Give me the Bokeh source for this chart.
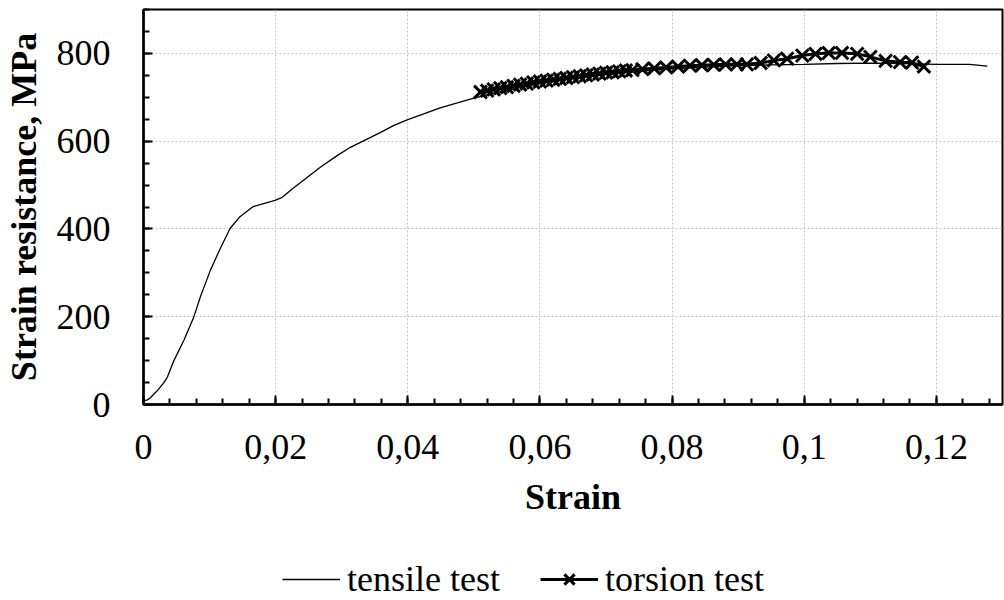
from bokeh.plotting import figure
from bokeh.layouts import column
from bokeh.models import FixedTicker, Range1d, Legend, LegendItem
from bokeh.embed import file_html
from bokeh.resources import INLINE

# ---------------- data ----------------
tensile_strain = [0.0, 0.0005, 0.001, 0.002, 0.003, 0.0036, 0.0046, 0.0061, 0.0076,
                  0.0086, 0.0101, 0.0116, 0.0131, 0.0146, 0.0166, 0.0187, 0.0199,
                  0.021, 0.0225, 0.0248, 0.0268, 0.0293, 0.0313, 0.0336, 0.0359,
                  0.0379, 0.04, 0.0424, 0.0449, 0.0475, 0.05, 0.055, 0.06, 0.065,
                  0.07, 0.075, 0.08, 0.085, 0.09, 0.095, 0.1, 0.105, 0.11, 0.115,
                  0.12, 0.125, 0.1277]
tensile_stress = [8, 10, 15, 30, 48, 62, 100, 146, 199,
                  245, 305, 355, 401, 428, 451, 460, 465,
                  472, 491, 518, 541, 567, 586, 603, 620,
                  636, 649, 662, 676, 687, 698, 716, 731, 743,
                  752, 759, 765, 769, 772, 774, 775, 777, 778, 777,
                  775, 775, 771]

torsion_strain = [0.051, 0.052, 0.053, 0.054, 0.055, 0.056, 0.057, 0.058, 0.059,
                  0.060, 0.061, 0.062, 0.063, 0.064, 0.065, 0.066, 0.067, 0.068,
                  0.069, 0.070, 0.071, 0.072, 0.073, 0.074, 0.0755, 0.0773,
                  0.0791, 0.0809, 0.0827, 0.0845, 0.0863, 0.0881, 0.0898, 0.0913,
                  0.0934, 0.0954, 0.0974, 0.0997, 0.1017, 0.1037, 0.1057, 0.108,
                  0.110, 0.1123, 0.1145, 0.1163, 0.1181]
torsion_stress = [712, 715, 718, 721, 723, 726, 729, 731, 734,
                  736, 738, 740, 742, 744, 746, 748, 750, 752,
                  754, 756, 757, 759, 761, 762, 764, 766,
                  768, 770, 772, 773, 774, 775, 775, 775,
                  778, 784, 788, 795, 799, 801, 801, 799,
                  792, 783, 780, 779, 770]

x_ticks = [0, 0.02, 0.04, 0.06, 0.08, 0.1, 0.12]
x_tick_labels = ["0", "0,02", "0,04", "0,06", "0,08", "0,1", "0,12"]
y_ticks = [0, 200, 400, 600, 800]
x_minor = [round(i * 0.004, 4) for i in range(33)]
y_minor = [i * 50 for i in range(19)]
series_names = ["tensile test", "torsion test"]

FONT = "Liberation Serif"
FS = "36px"

p = figure(width=1004, height=540, output_backend="svg", toolbar_location=None,
           x_range=Range1d(0, 0.13), y_range=Range1d(0, 900),
           min_border_left=143, min_border_right=2, min_border_top=9,
           min_border_bottom=136,
           x_axis_label="Strain", y_axis_label="Strain resistance, MPa")

p.background_fill_color = "white"
p.border_fill_color = "white"
p.outline_line_color = "black"
p.outline_line_width = 2

p.xaxis.ticker = FixedTicker(ticks=x_ticks, minor_ticks=x_minor)
p.yaxis.ticker = FixedTicker(ticks=y_ticks, minor_ticks=y_minor)
p.xaxis.major_label_overrides = {t: s for t, s in zip(x_ticks, x_tick_labels)}

for ax in (p.xaxis[0], p.yaxis[0]):
    ax.axis_line_color = "black"
    ax.axis_line_width = 2.5
    ax.major_tick_in = 9
    ax.major_tick_out = 0
    ax.minor_tick_in = 6
    ax.minor_tick_out = 0
    ax.major_tick_line_color = "black"
    ax.minor_tick_line_color = "black"
    ax.major_tick_line_width = 2
    ax.minor_tick_line_width = 2
    ax.major_label_text_font = FONT
    ax.major_label_text_font_size = FS
    ax.major_label_text_color = "black"
    ax.axis_label_text_font = FONT
    ax.axis_label_text_font_size = FS
    ax.axis_label_text_font_style = "bold"
    ax.axis_label_text_color = "black"

p.xaxis.major_label_standoff = 30
p.xaxis.axis_label_standoff = 15
p.yaxis.major_label_standoff = 33
p.yaxis.axis_label_standoff = 10

for g in (p.xgrid[0], p.ygrid[0]):
    g.grid_line_color = "#c4c4c4"
    g.grid_line_dash = "2 2"
    g.grid_line_width = 1

TENSILE = dict(line_color="black", line_width=1.3)
TORSION_LINE = dict(line_color="black", line_width=3)
TORSION_MARK = dict(marker="x", line_color="black", line_width=3)

p.line(tensile_strain, tensile_stress, **TENSILE)
p.line(torsion_strain, torsion_stress, **TORSION_LINE)
p.scatter(torsion_strain, torsion_stress, size=18, **TORSION_MARK)

# ---- legend strip below the chart (series drawn out of its view range) ----
lg = figure(width=1004, height=60, output_backend="svg", toolbar_location=None,
            x_range=Range1d(1, 2), y_range=Range1d(1000, 2000),
            min_border=0, x_axis_type=None, y_axis_type=None)
lg.outline_line_color = None
lg.xgrid.visible = False
lg.ygrid.visible = False
lg.background_fill_color = "white"
lg.border_fill_color = "white"
d1 = lg.line(tensile_strain, tensile_stress, **TENSILE)
d2 = lg.line(torsion_strain, torsion_stress, **TORSION_LINE)
d3 = lg.scatter(torsion_strain, torsion_stress, size=15, **TORSION_MARK)

legend = Legend(items=[LegendItem(label=series_names[0], renderers=[d1]),
                       LegendItem(label=series_names[1], renderers=[d2, d3])],
                orientation="horizontal", location=(139, 0),
                glyph_width=58, glyph_height=36, label_standoff=7, spacing=40,
                padding=0, margin=0, border_line_color=None,
                background_fill_alpha=0,
                label_text_font=FONT, label_text_font_size=FS,
                label_text_color="black")
lg.add_layout(legend, "center")

layout = column(p, lg, spacing=0)
open("out.html", "w").write(file_html(layout, INLINE))
